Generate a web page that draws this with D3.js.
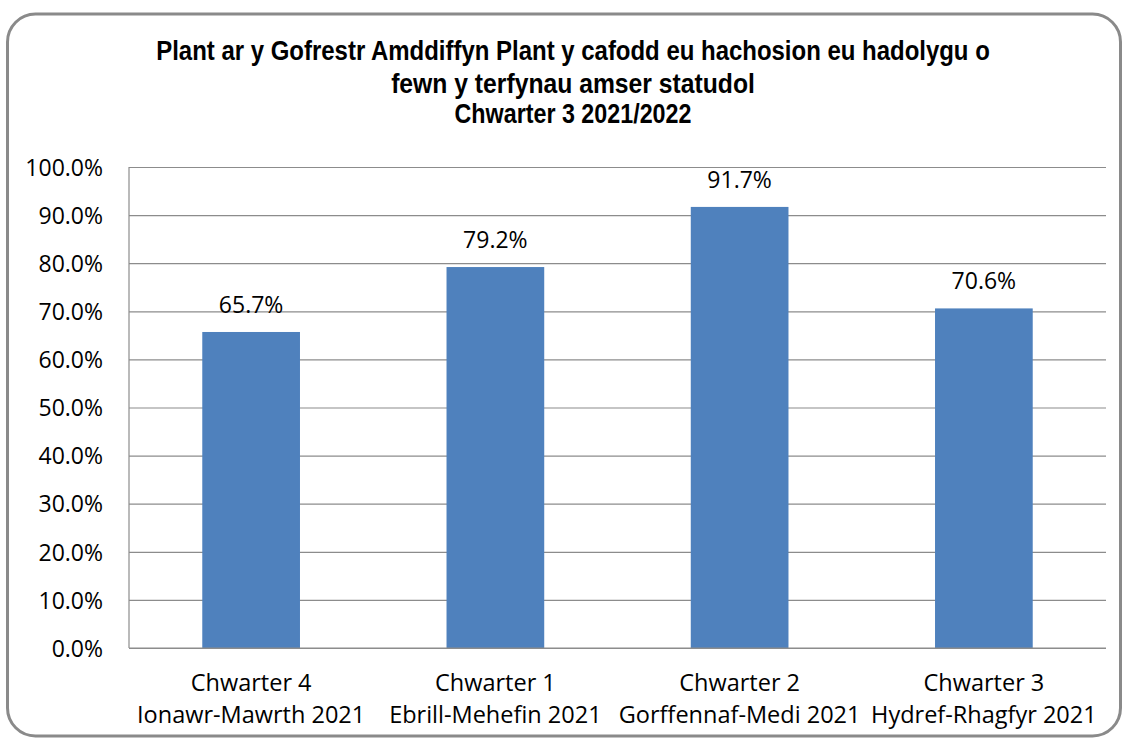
<!DOCTYPE html>
<html>
<head>
<meta charset="utf-8">
<script src="https://cdn.jsdelivr.net/npm/d3@7/dist/d3.min.js"></script>
<style>
html,body{margin:0;padding:0;background:#fff;}
svg{display:block;}
</style>
</head>
<body>
<svg id="chart" width="1126" height="740"></svg>
<script>
const titleLines = [
  "Plant ar y Gofrestr Amddiffyn Plant y cafodd eu hachosion eu hadolygu o",
  "fewn y terfynau amser statudol",
  "Chwarter 3 2021/2022"
];
const categoriesLine1 = ["Chwarter 4", "Chwarter 1", "Chwarter 2", "Chwarter 3"];
const categoriesLine2 = ["Ionawr-Mawrth 2021", "Ebrill-Mehefin 2021", "Gorffennaf-Medi 2021", "Hydref-Rhagfyr 2021"];
const values = [65.7, 79.2, 91.7, 70.6];
const yTicks = [0, 10, 20, 30, 40, 50, 60, 70, 80, 90, 100];

const svg = d3.select("#chart");
const M = {left: 129, right: 1106, top: 167, bottom: 648};

// outer border
svg.append("rect")
  .attr("x", 7.5).attr("y", 14).attr("width", 1113).attr("height", 722)
  .attr("rx", 28).attr("ry", 28)
  .attr("fill", "#fff").attr("stroke", "#8a8a8a").attr("stroke-width", 3);

// title (horizontally condensed like the reference)
const titleLens = [834, 364, 237];
const titleBase = [60, 93, 123];
const tg = svg.append("g");
titleLines.forEach((line, i) => {
  const g = tg.append("g");
  const t = g.append("text")
    .attr("x", 0).attr("y", 0)
    .attr("text-anchor", "middle")
    .attr("font-family", "Liberation Sans, Arial, sans-serif")
    .attr("font-weight", "bold")
    .attr("font-size", 28)
    .attr("fill", "#000")
    .text(line);
  const w = t.node().getComputedTextLength();
  const sx = titleLens[i] / w;
  g.attr("transform", `translate(573,${titleBase[i]}) scale(${sx},1)`);
});

const x = d3.scaleBand().domain(categoriesLine1).range([M.left, M.right]).paddingInner(0.6).paddingOuter(0.3);
const y = d3.scaleLinear().domain([0, 100]).range([M.bottom, M.top]);

// gridlines
const yAxis = d3.axisLeft(y).tickValues(yTicks).tickSize(-(M.right - M.left)).tickFormat(d => d3.format(".1f")(d) + "%").tickPadding(26);
const gy = svg.append("g").attr("transform", `translate(${M.left},0)`).call(yAxis);
gy.select(".domain").remove();
gy.selectAll(".tick line").attr("stroke", "#8c8c8c").attr("stroke-width", 1.2);
gy.selectAll(".tick text")
  .attr("font-family", "Open Sans, sans-serif")
  .attr("font-size", 23)
  .attr("fill", "#000")
  .attr("dy", "0.36em");

// left axis line
svg.append("line").attr("x1", M.left).attr("x2", M.left).attr("y1", M.top).attr("y2", M.bottom)
  .attr("stroke", "#8c8c8c").attr("stroke-width", 1.2);

// bars
svg.append("g").selectAll("rect").data(values).join("rect")
  .attr("x", (d, i) => x(categoriesLine1[i]))
  .attr("width", x.bandwidth())
  .attr("y", d => y(d))
  .attr("height", d => y(0) - y(d))
  .attr("fill", "#4f81bd");

// bottom axis line
svg.append("line").attr("x1", M.left).attr("x2", M.right).attr("y1", M.bottom).attr("y2", M.bottom)
  .attr("stroke", "#8c8c8c").attr("stroke-width", 1.2);

// data labels
svg.append("g").selectAll("text").data(values).join("text")
  .attr("x", (d, i) => x(categoriesLine1[i]) + x.bandwidth() / 2)
  .attr("y", d => y(d) - 19)
  .attr("text-anchor", "middle")
  .attr("font-family", "Open Sans, sans-serif")
  .attr("font-size", 23)
  .attr("fill", "#000")
  .text(d => d3.format(".1f")(d) + "%");

// category labels
const gx = svg.append("g");
categoriesLine1.forEach((c, i) => {
  const cx = x(c) + x.bandwidth() / 2;
  const t = gx.append("text")
    .attr("x", cx).attr("text-anchor", "middle")
    .attr("font-family", "Open Sans, sans-serif")
    .attr("font-size", 23.5).attr("fill", "#000");
  t.append("tspan").attr("x", cx).attr("y", 691).text(c);
  t.append("tspan").attr("x", cx).attr("y", 723).text(categoriesLine2[i]);
});
</script>
</body>
</html>
